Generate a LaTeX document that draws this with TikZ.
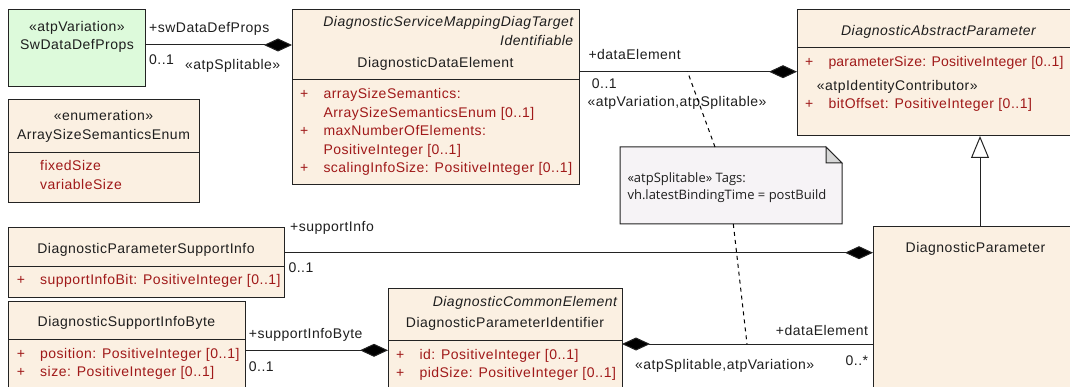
\documentclass[tikz,border=0pt]{standalone}
\usepackage{fontspec}
\setmainfont{Liberation Sans}[LetterSpace=3.5]
\newfontfamily\notefont{Open Sans}
\usetikzlibrary{arrows.meta}
\definecolor{boxfill}{RGB}{251,240,226}
\definecolor{greenfill}{RGB}{221,250,219}
\definecolor{attr}{RGB}{160,25,25}
\definecolor{notefill}{RGB}{246,243,246}
\definecolor{foldfill}{RGB}{215,215,215}
\definecolor{edge}{RGB}{35,35,35}
\definecolor{ink}{RGB}{30,30,30}
\begin{document}
\begin{tikzpicture}[x=1pt,y=-1pt,
  font=\fontsize{14}{16}\selectfont,
  cls/.style={draw=edge, line width=1pt, fill=boxfill, anchor=north west, inner sep=0pt, outer sep=0pt},
  divider/.style={draw=edge, line width=1pt},
  lbl/.style={inner sep=0pt, anchor=base, text=ink},
  lbll/.style={inner sep=0pt, anchor=base west, text=ink},
  lblr/.style={inner sep=0pt, anchor=base east, text=ink},
  attrtxt/.style={inner sep=0pt, anchor=base west, text=attr},
  ital/.style={inner sep=0pt, anchor=base east, text=ink, font=\fontsize{14}{16}\selectfont\itshape},
  assoc/.style={draw=edge, line width=1pt},
  comp/.style={assoc, -{Diamond[length=28pt,width=13pt,fill=black]}},
  compstart/.style={assoc, {Diamond[length=28pt,width=13pt,fill=black]}-},
  gen/.style={assoc, -{Triangle[length=22pt,width=18pt,fill=white]}},
  notelink/.style={draw=black, line width=1pt, dash pattern=on 4pt off 4pt},
  notetxt/.style={inner sep=0pt, anchor=base west, text=ink, font=\notefont\fontsize{13}{15}\selectfont}
]
\useasboundingbox (0,0) rectangle (1070,387);
\clip (0,0) rectangle (1070,387);

% ---------- SwDataDefProps ----------
\node[cls, fill=greenfill, minimum width=137pt, minimum height=77pt] (swdd) at (8,10) {};
\node[lbl] (swdd-st) at (77,31.5) {«atpVariation»};
\node[lbl] (swdd-n) at (77,50) {SwDataDefProps};

% ---------- ArraySizeSemanticsEnum ----------
\node[cls, minimum width=191pt, minimum height=103pt] (enum) at (8,100) {};
\draw[divider] (enum.west |- 0,153) -- (enum.east |- 0,153);
\node[lbl] (enum-st) at (103.5,121) {«enumeration»};
\node[lbl] (enum-n) at (103.5,140) {ArraySizeSemanticsEnum};
\node[attrtxt] (enum-a1) at (40,170.5) {fixedSize};
\node[attrtxt] (enum-a2) at (40,189.5) {variableSize};

% ---------- DiagnosticDataElement ----------
\node[cls, minimum width=287pt, minimum height=175pt] (dde) at (292,10) {};
\draw[divider] (dde.west |- 0,80) -- (dde.east |- 0,80);
\node[ital] (dde-p1) at (573.5,26.7) {DiagnosticServiceMappingDiagTarget};
\node[ital] (dde-p2) at (573.5,46) {Identifiable};
\node[lbl] (dde-n) at (435.5,67.7) {DiagnosticDataElement};
\node[attrtxt] (dde-v1) at (300,99) {+};
\node[attrtxt] (dde-a1) at (323.3,99) {arraySizeSemantics:};
\node[attrtxt] (dde-a1b) at (323.3,117.5) {ArraySizeSemanticsEnum [0..1]};
\node[attrtxt] (dde-v2) at (300,136) {+};
\node[attrtxt] (dde-a2) at (323.3,136) {maxNumberOfElements:};
\node[attrtxt] (dde-a2b) at (323.3,154.5) {PositiveInteger [0..1]};
\node[attrtxt] (dde-v3) at (300,173) {+};
\node[attrtxt] (dde-a3) at (323.3,173) {scalingInfoSize: PositiveInteger [0..1]};

% ---------- DiagnosticAbstractParameter ----------
\node[cls, minimum width=283pt, minimum height=126pt] (dap) at (797,10) {};
\draw[divider] (dap.west |- 0,48) -- (dap.east |- 0,48);
\node[lbl, font=\fontsize{14}{16}\selectfont\itshape] (dap-n) at (938.5,36) {DiagnosticAbstractParameter};
\node[attrtxt] (dap-v1) at (805,66.7) {+};
\node[attrtxt, font=\fontsize{14}{16}\selectfont\addfontfeature{LetterSpace=1.5}] (dap-a1) at (828.3,66.7) {parameterSize: PositiveInteger [0..1]};
\node[lbll] (dap-st) at (816.7,90.5) {«atpIdentityContributor»};
\node[attrtxt] (dap-v2) at (805,108.7) {+};
\node[attrtxt] (dap-a2) at (828.3,108.7) {bitOffset: PositiveInteger [0..1]};

% ---------- DiagnosticParameter ----------
\node[cls, minimum width=205pt, minimum height=180pt] (dp) at (873,227) {};
\node[lbl] (dp-n) at (975.5,252.7) {DiagnosticParameter};

% ---------- DiagnosticParameterSupportInfo ----------
\node[cls, minimum width=276pt, minimum height=69pt] (dpsi) at (8,228) {};
\draw[divider] (dpsi.west |- 0,266) -- (dpsi.east |- 0,266);
\node[lbl] (dpsi-n) at (146,253.3) {DiagnosticParameterSupportInfo};
\node[attrtxt] (dpsi-v1) at (16.7,284) {+};
\node[attrtxt] (dpsi-a1) at (40,284) {supportInfoBit: PositiveInteger [0..1]};

% ---------- DiagnosticSupportInfoByte ----------
\node[cls, minimum width=237pt, minimum height=110pt] (dsib) at (8,301) {};
\draw[divider] (dsib.west |- 0,339) -- (dsib.east |- 0,339);
\node[lbl] (dsib-n) at (126.5,326.7) {DiagnosticSupportInfoByte};
\node[attrtxt] (dsib-v1) at (16.7,358) {+};
\node[attrtxt] (dsib-a1) at (40,358) {position: PositiveInteger [0..1]};
\node[attrtxt] (dsib-v2) at (16.7,376.5) {+};
\node[attrtxt] (dsib-a2) at (40,376.5) {size: PositiveInteger [0..1]};

% ---------- DiagnosticParameterIdentifier ----------
\node[cls, minimum width=234pt, minimum height=120pt] (dpi) at (388,288) {};
\draw[divider] (dpi.west |- 0,340) -- (dpi.east |- 0,340);
\node[ital] (dpi-p1) at (617.3,306) {DiagnosticCommonElement};
\node[lbl] (dpi-n) at (505,327.7) {DiagnosticParameterIdentifier};
\node[attrtxt] (dpi-v1) at (396,359.3) {+};
\node[attrtxt] (dpi-a1) at (419.3,359.3) {id: PositiveInteger [0..1]};
\node[attrtxt] (dpi-v2) at (396,377.7) {+};
\node[attrtxt] (dpi-a2) at (419.3,377.7) {pidSize: PositiveInteger [0..1]};

% ---------- Note ----------
\node[inner sep=0pt, outer sep=0pt, anchor=north west, minimum width=222pt, minimum height=77pt] (note) at (620,147) {};
\draw[draw=edge, line width=1pt, fill=notefill]
  (note.north west) -- ([xshift=-16pt]note.north east) -- ([yshift=-16pt]note.north east)
  -- (note.south east) -- (note.south west) -- cycle;
\draw[draw=edge, line width=1pt, fill=foldfill, line join=miter]
  ([xshift=-16pt]note.north east) -- ([xshift=-16pt,yshift=-16pt]note.north east)
  -- ([yshift=-16pt]note.north east) -- cycle;
\node[notetxt] (note-t1) at (627.3,182.3) {«atpSplitable» Tags:};
\node[notetxt] (note-t2) at (627.3,199.3) {vh.latestBindingTime = postBuild};

% ---------- Connectors ----------
\draw[comp] (swdd.east |- 0,45) -- (dde.west |- 0,45);
\node[lbll] (c1-r) at (149,32.5) {+swDataDefProps};
\node[lbll] (c1-m) at (149,65) {0..1};
\node[lbll] (c1-s) at (185,70) {«atpSplitable»};

\draw[comp] (dde.east |- 0,71.7) -- (dap.west |- 0,71.7);
\node[lbll] (c2-r) at (588.3,60) {+dataElement};
\node[lbll] (c2-m) at (591.7,89) {0..1};
\node[lbll] (c2-s) at (587.3,106.5) {«atpVariation,atpSplitable»};

\draw[comp] (dpsi.east |- 0,252.7) -- (dp.west |- 0,252.7);
\node[lbll] (c3-r) at (290,231.6) {+supportInfo};
\node[lbll] (c3-m) at (288.3,272.7) {0..1};

\draw[comp] (dsib.east |- 0,350.3) -- (dpi.west |- 0,350.3);
\node[lbll] (c4-r) at (248.7,338.3) {+supportInfoByte};
\node[lbll] (c4-m) at (248.7,371) {0..1};

\draw[compstart] (dpi.east |- 0,344) -- (dp.west |- 0,344);
\node[lblr] (c5-r) at (868.3,335) {+dataElement};
\node[lbll] (c5-s) at (635,369) {«atpSplitable,atpVariation»};
\node[lblr] (c5-m) at (868.3,365) {0..*};

\draw[gen] (dp.north -| 980,0) -- (dap.south -| 980,0);

\coordinate (d1) at (687.5,71.7);
\coordinate (d2) at (747,344);
\draw[notelink] (note.north -| 715,0) -- (d1);
\draw[notelink] (note.south -| 733.3,0) -- (d2);
\end{tikzpicture}
\end{document}
